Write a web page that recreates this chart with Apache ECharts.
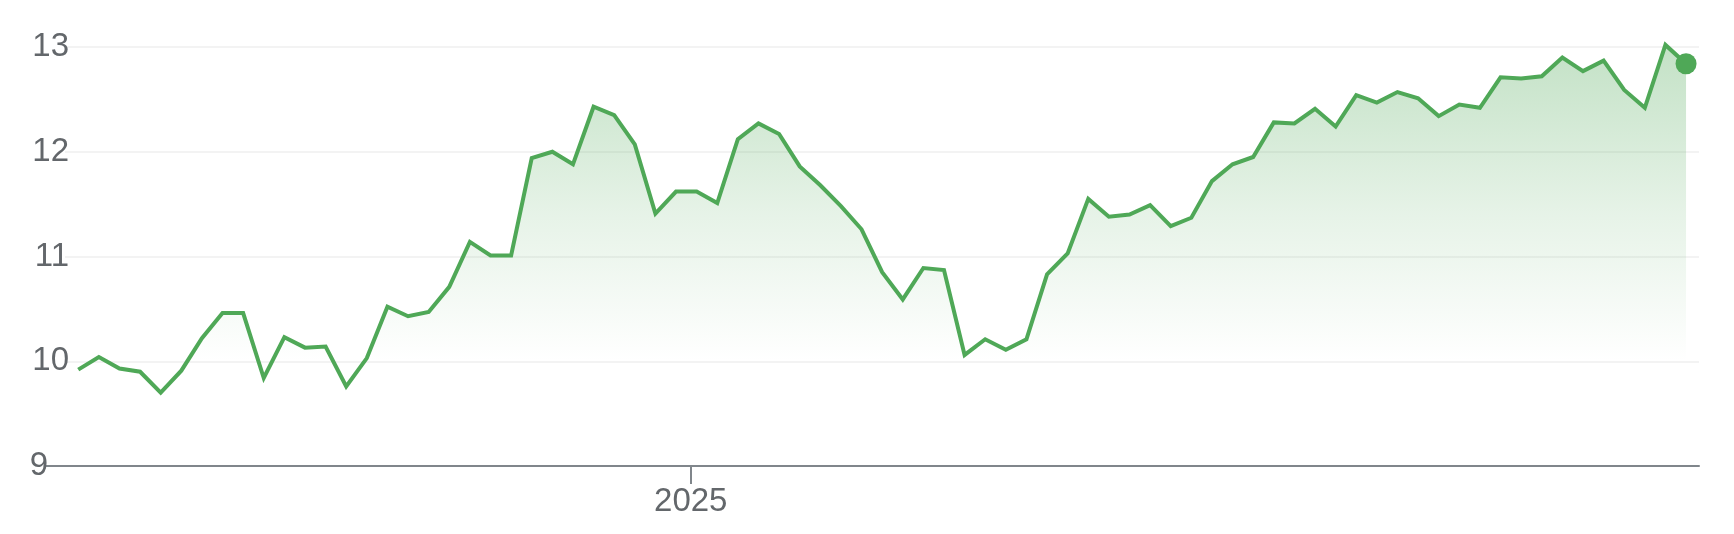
<!DOCTYPE html>
<html>
<head>
<meta charset="utf-8">
<script src="https://cdn.jsdelivr.net/npm/echarts@6/dist/echarts.min.js"></script>
<style>
html,body{margin:0;padding:0;background:#fff;}
#c{width:1734px;height:534px;}
</style>
</head>
<body>
<div id="c"></div>
<script>
var dates = [
'2024-06-07','2024-06-14','2024-06-21','2024-06-28',
'2024-07-05','2024-07-12','2024-07-19','2024-07-26',
'2024-08-02','2024-08-09','2024-08-16','2024-08-23','2024-08-30',
'2024-09-06','2024-09-13','2024-09-20','2024-09-27',
'2024-10-04','2024-10-11','2024-10-18','2024-10-25',
'2024-11-01','2024-11-08','2024-11-15','2024-11-22','2024-11-29',
'2024-12-06','2024-12-13','2024-12-20','2024-12-27',
'2025-01-03','2025-01-10','2025-01-17','2025-01-24','2025-01-31',
'2025-02-07','2025-02-14','2025-02-21','2025-02-28',
'2025-03-07','2025-03-14','2025-03-21','2025-03-28',
'2025-04-04','2025-04-11','2025-04-18','2025-04-25',
'2025-05-02','2025-05-09','2025-05-16','2025-05-23','2025-05-30',
'2025-06-06','2025-06-13','2025-06-20','2025-06-27',
'2025-07-04','2025-07-11','2025-07-18','2025-07-25',
'2025-08-01','2025-08-08','2025-08-15','2025-08-22','2025-08-29',
'2025-09-05','2025-09-12','2025-09-19','2025-09-26',
'2025-10-03','2025-10-10','2025-10-17','2025-10-24','2025-10-31',
'2025-11-07','2025-11-14','2025-11-21','2025-11-28',
'2025-12-05'
];
var prices = [
9.92,10.04,9.93,9.90,9.70,9.91,10.22,10.46,10.46,9.84,
10.23,10.13,10.14,9.76,10.03,10.52,10.43,10.47,10.71,11.14,
11.01,11.01,11.94,12.00,11.88,12.43,12.35,12.07,11.41,11.62,
11.62,11.51,12.12,12.27,12.17,11.86,11.68,11.48,11.26,10.85,
10.59,10.89,10.87,10.06,10.21,10.11,10.21,10.83,11.03,11.55,
11.38,11.40,11.49,11.29,11.37,11.72,11.88,11.95,12.28,12.27,
12.41,12.24,12.54,12.47,12.57,12.51,12.34,12.45,12.42,12.71,
12.70,12.72,12.90,12.77,12.87,12.59,12.42,13.02,12.84
];
var xTickDates = ['2025-01-01'];
var xTickLabels = ['2025'];
var yMin = 9, yMax = 13, yStep = 1;

var GREEN = '#4fa857';
var GREY = '#63676b';
var FONT = 'Arial';
var DAY = 86400000;

function parseLocal(s){ var p = s.split('-'); return new Date(+p[0], +p[1]-1, +p[2]).getTime(); }
var xTickVals = xTickDates.map(parseLocal);
var xs = dates.map(parseLocal);

var seriesData = xs.map(function(t, i){ return [t, prices[i]]; });
var last = seriesData[seriesData.length - 1];

var chart = echarts.init(document.getElementById('c'), null, {renderer: 'canvas'});
chart.setOption({
  animation: false,
  backgroundColor: '#fff',
  grid: [
    {left: 65, right: 35, top: 47, bottom: 68, containLabel: false},
    {left: 45, right: 35, top: 47, bottom: 68, containLabel: false}
  ],
  xAxis: [{
    type: 'value',
    gridIndex: 0,
    scale: true,
    min: xs[0] - 4.5 * DAY,
    max: xs[xs.length - 1] + 4.4 * DAY,
    axisLine: {show: false},
    axisTick: {show: true, length: 18, customValues: xTickVals, lineStyle: {color: '#80868b', width: 2}},
    axisLabel: {
      show: true, customValues: xTickVals, margin: 19,
      fontSize: 33, fontFamily: FONT, color: GREY,
      formatter: function(v){
        var i = xTickVals.indexOf(v);
        return i >= 0 ? xTickLabels[i] : '';
      }
    },
    splitLine: {show: false}
  }, {
    type: 'value',
    gridIndex: 1,
    min: 0, max: 1,
    axisLine: {show: true, lineStyle: {color: '#80868b', width: 2}},
    axisTick: {show: false},
    axisLabel: {show: false},
    splitLine: {show: false}
  }],
  yAxis: [{
    type: 'value',
    gridIndex: 0,
    offset: -6,
    min: yMin, max: yMax, interval: yStep,
    axisLine: {show: false},
    axisTick: {show: false},
    axisLabel: {
      margin: 2, fontSize: 33, fontFamily: FONT, color: GREY,
      formatter: function(v){ return v === yMin ? '{b|' + v + '}' : String(v); },
      rich: {b: {fontSize: 33, fontFamily: FONT, color: GREY, padding: [0, 21, 0, 0]}}
    },
    splitLine: {show: true, lineStyle: {color: '#efefef', width: 1.5}}
  }, {
    type: 'value', gridIndex: 1, min: 0, max: 1, show: false
  }],
  series: [{
    type: 'line',
    xAxisIndex: 0, yAxisIndex: 0,
    data: seriesData,
    symbol: 'none',
    clip: false,
    lineStyle: {color: GREEN, width: 4, join: 'miter'},
    areaStyle: {
      opacity: 1,
      color: new echarts.graphic.LinearGradient(0, 0, 0, 1, [
        {offset: 0, color: 'rgba(79,168,87,0.34)'},
        {offset: 0.4, color: 'rgba(79,168,87,0.14)'},
        {offset: 0.75, color: 'rgba(79,168,87,0.0)'},
        {offset: 1, color: 'rgba(79,168,87,0.0)'}
      ])
    },
    z: 3
  }, {
    type: 'scatter',
    xAxisIndex: 0, yAxisIndex: 0,
    data: [last],
    symbol: 'circle',
    symbolSize: 21,
    itemStyle: {color: GREEN, opacity: 1},
    clip: false,
    z: 4
  }]
});
</script>
</body>
</html>
